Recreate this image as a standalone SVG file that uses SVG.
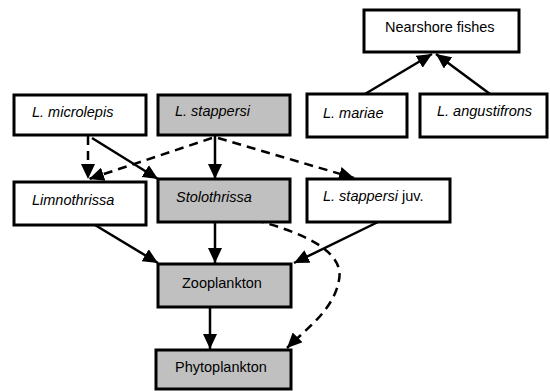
<svg xmlns="http://www.w3.org/2000/svg" width="550" height="391" viewBox="0 0 550 391">
<style>
.box{stroke:#000;stroke-width:3;fill:#fff}
.g{fill:#c0c0c0}
text{font-family:"Liberation Sans",Arial,sans-serif;font-size:14.5px;fill:#000}
.i{font-style:italic}
.c{fill:none;stroke:#000;stroke-width:2.5}
.d{stroke-dasharray:9,6}
</style>
<defs>
<marker id="ah" markerUnits="userSpaceOnUse" markerWidth="16" markerHeight="14" refX="15" refY="7" orient="auto">
<path d="M0,0 L15,7 L0,14 Z" fill="#000"/>
</marker>
</defs>
<rect width="550" height="391" fill="#fff"/>
<g id="connectors">
<line class="c" x1="365" y1="94" x2="432" y2="54" marker-end="url(#ah)"/>
<line class="c" x1="490" y1="94" x2="436" y2="54" marker-end="url(#ah)"/>
<line class="c d" x1="88" y1="136" x2="88" y2="179" marker-end="url(#ah)"/>
<line class="c" x1="92" y1="138" x2="158" y2="179" marker-end="url(#ah)"/>
<line class="c d" x1="212" y1="138" x2="89" y2="179" marker-end="url(#ah)"/>
<line class="c" x1="215" y1="136" x2="215" y2="179" marker-end="url(#ah)"/>
<line class="c d" x1="218" y1="138" x2="354" y2="178" marker-end="url(#ah)"/>
<line class="c" x1="90" y1="222" x2="158" y2="263" marker-end="url(#ah)"/>
<line class="c" x1="215" y1="222" x2="215" y2="263" marker-end="url(#ah)"/>
<line class="c" x1="378" y1="222" x2="294" y2="263" marker-end="url(#ah)"/>
<line class="c" x1="210" y1="307" x2="210" y2="349" marker-end="url(#ah)"/>
<path class="c d" d="M255,220 C300,232 345,250 339,280 C334,310 305,330 287,348" marker-end="url(#ah)"/>
</g>
<g id="nearshore"><rect class="box" x="364" y="10" width="155" height="42"/><text x="385" y="32">Nearshore fishes</text></g>
<g id="mariae"><rect class="box" x="307" y="94" width="100" height="43"/><text class="i" x="323" y="118">L. mariae</text></g>
<g id="angustifrons"><rect class="box" x="420" y="94" width="127" height="43"/><text class="i" x="437" y="116">L. angustifrons</text></g>
<g id="microlepis"><rect class="box" x="14" y="95" width="132" height="40"/><text class="i" x="32" y="117">L. microlepis</text></g>
<g id="stappersi"><rect class="box g" x="158" y="95" width="132" height="40"/><text class="i" x="175" y="116">L. stappersi</text></g>
<g id="limnothrissa"><rect class="box" x="14" y="182" width="132" height="43"/><text class="i" x="32" y="205">Limnothrissa</text></g>
<g id="stolothrissa"><rect class="box g" x="158" y="179" width="132" height="43"/><text class="i" x="176" y="202">Stolothrissa</text></g>
<g id="stappersijuv"><rect class="box" x="307" y="179" width="143" height="43"/><text x="323" y="201"><tspan class="i">L. stappersi</tspan> juv.</text></g>
<g id="zooplankton"><rect class="box g" x="158" y="264" width="133" height="43"/><text x="182" y="288">Zooplankton</text></g>
<g id="phytoplankton"><rect class="box g" x="156" y="350" width="135" height="39"/><text x="175" y="372">Phytoplankton</text></g>
</svg>
